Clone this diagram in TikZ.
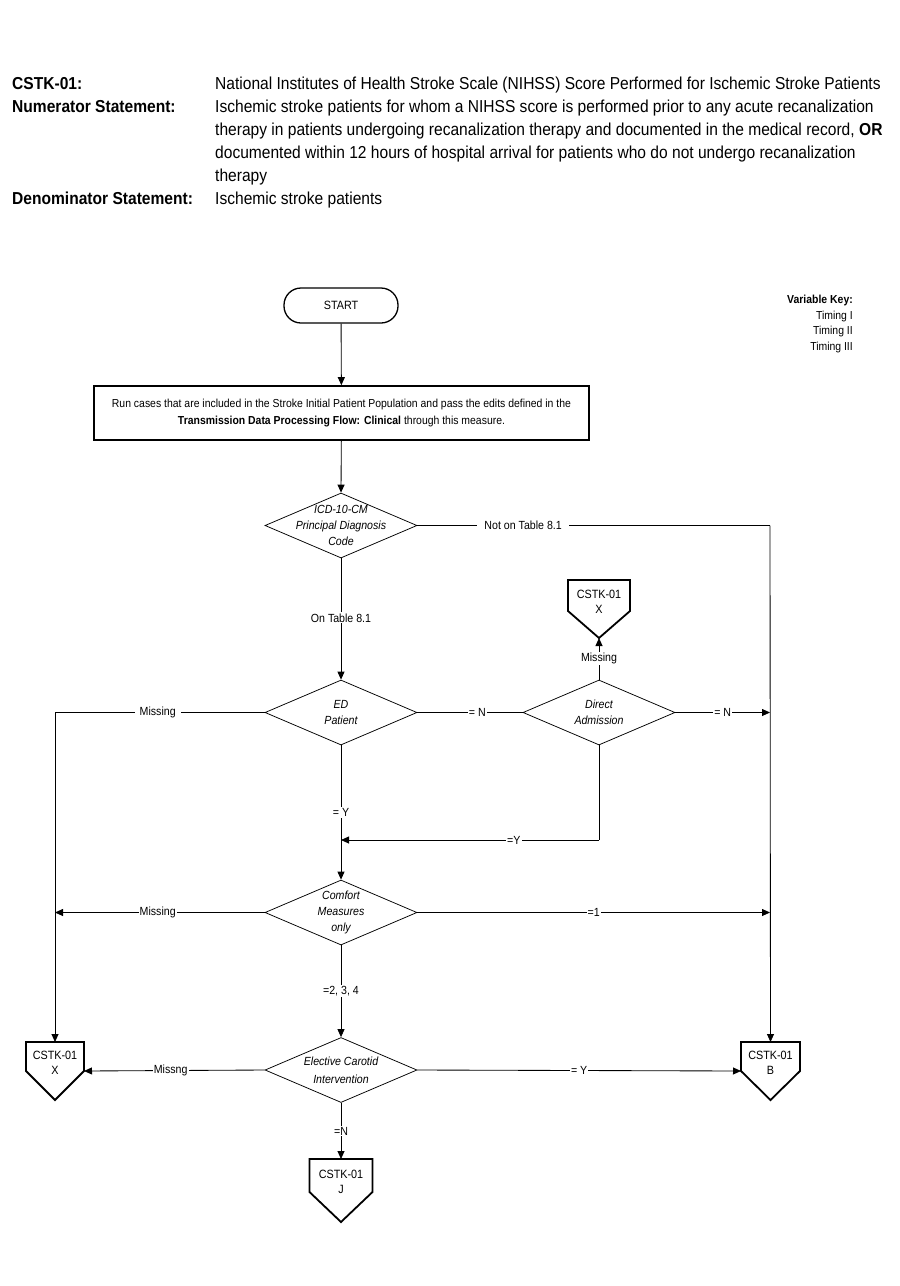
\documentclass[tikz,border=0pt]{standalone}
\usepackage{fontspec}
\setmainfont{Liberation Sans}[FakeStretch=0.9]
\usetikzlibrary{arrows.meta,shapes.geometric}
\newcommand{\offpage}[6]{% name, cx, ytop, halfwidth, recth, tiph
  \draw[offline] (#2-#4,#3) -- (#2+#4,#3) -- (#2+#4,#3+#5) -- (#2,#3+#5+#6) -- (#2-#4,#3+#5) -- cycle;
  \coordinate (#1-top) at (#2,#3);
  \coordinate (#1-tip) at (#2,#3+#5+#6);
  \coordinate (#1-le) at (#2-#4,#3+#5);
  \coordinate (#1-re) at (#2+#4,#3+#5);
}
\begin{document}
\begin{tikzpicture}[x=1pt,y=-1pt,
  line/.style={draw=black, line width=0.85pt},
  arr/.style={line, -{Triangle[length=8pt,width=7pt]}},
  offline/.style={draw=black, line width=1.8pt, line join=miter},
  dec/.style={diamond, draw=black, line width=0.75pt, minimum width=152pt, minimum height=65pt, inner sep=0pt},
  dectxt/.style={align=center, inner sep=0pt, font=\fontsize{11.8}{16}\selectfont\itshape},
  lab/.style={fill=white, inner sep=1pt, font=\fontsize{11.8}{13}\selectfont},
  offtxt/.style={align=center, inner sep=0pt, font=\fontsize{12}{15}\selectfont},
  hd/.style={anchor=base west, inner sep=0pt, font=\fontsize{17.3}{23}\selectfont},
  hdb/.style={hd, font=\fontsize{17.3}{23}\selectfont\bfseries},
  vkf/.style={anchor=east, inner sep=0pt, font=\fontsize{11.6}{13}\selectfont},
]
\useasboundingbox (0,0) rectangle (900,1286);
% header
\node[hdb] (h1) at (12,89) {CSTK-01:};
\node[hd] (t1) at (215,89) {National Institutes of Health Stroke Scale (NIHSS) Score Performed for Ischemic Stroke Patients};
\node[hdb] (h2) at (12,112) {Numerator Statement:};
\node[hd, anchor=north west, align=left] (t2) at (215,100) {Ischemic stroke patients for whom a NIHSS score is performed prior to any acute recanalization\\therapy in patients undergoing recanalization therapy and documented in the medical record, \textbf{OR}\\documented within 12 hours of hospital arrival for patients who do not undergo recanalization\\therapy};
\node[hdb] (h3) at (12,204) {Denominator Statement:};
\node[hd] (t3) at (215,204) {Ischemic stroke patients};
% variable key
\node[vkf, font=\fontsize{11.6}{13}\selectfont\bfseries] (vk) at (853,300) {Variable Key:};
\node[vkf] (vk1) at (853,316) {Timing I};
\node[vkf] (vk2) at (853,331) {Timing II};
\node[vkf] (vk3) at (853,347) {Timing III};
% start
\node[draw=black, line width=1.3pt, rounded corners=17pt, minimum width=114pt, minimum height=35pt, font=\fontsize{12}{13}\selectfont] (start) at (341,305.5) {START};
% box
\node[draw=black, line width=1.6pt, minimum width=495pt, minimum height=54pt, align=center, font=\fontsize{11.6}{17}\selectfont] (box) at (341.5,413) {Run cases that are included in the Stroke Initial Patient Population and pass the edits defined in the\\\textbf{Transmission Data Processing Flow: Clinical} through this measure.};
% decisions
\node[dec] (icd) at (341,525.5) {};
\node[dectxt] (icdt) at (icd) {ICD-10-CM\\Principal Diagnosis\\Code};
\node[dec] (ed) at (341,712.5) {};
\node[dectxt] (edt) at (ed) {ED\\Patient};
\node[dec] (da) at (599,712.5) {};
\node[dectxt] (dat) at (da) {Direct\\Admission};
\node[dec] (cmo) at (341,912.5) {};
\node[dectxt] (cmot) at (cmo) {Comfort\\Measures\\only};
\node[dec] (eci) at (341,1070) {};
\node[dectxt, font=\fontsize{11.8}{18}\selectfont\itshape] (ecit) at (eci) {Elective Carotid\\Intervention};
% off-page connectors
\offpage{xt}{599}{580}{31}{31}{27}
\node[offtxt] (xtt) at (599,601.5) {CSTK-01\\X};
\offpage{xl}{55}{1042}{29}{29}{29}
\node[offtxt] (xlt) at (55,1062.5) {CSTK-01\\X};
\offpage{xb}{770.5}{1042}{29.5}{29}{29}
\node[offtxt] (xbt) at (770.5,1062.5) {CSTK-01\\B};
\offpage{xj}{341}{1159}{31.5}{33}{30}
\node[offtxt] (xjt) at (341,1182) {CSTK-01\\J};
% coordinates
\coordinate (rt) at (770,525.5);
\coordinate (rn) at (770,712.5);
\coordinate (r1) at (770,912.5);
\coordinate (lt) at (55,712.5);
\coordinate (lm) at (55,912.5);
\coordinate (dy) at (599,840);
\coordinate (my) at (341,840);
% connectors
\draw[arr] (start) -- (box);
\draw[arr] (box) -- (icd.north);
\draw[arr] (icd.south) -- node[lab, pos=0.49] {On Table 8.1} (ed.north);
\draw[line] (icd.east) -- node[lab, inner xsep=7pt, pos=0.30] {Not on Table 8.1} (rt);
\draw[arr] (rt) -- (xb-top);
\draw[line] (ed.east) -- node[lab, pos=0.57] {= N} (da.west);
\draw[arr] (da.east) -- node[lab, pos=0.5] {= N} (rn);
\draw[arr] (da.north) -- node[lab, pos=0.5] {Missing} (xt-tip);
\draw[line] (ed.west) -- node[lab, inner xsep=5pt, pos=0.51] {Missing} (lt);
\draw[arr] (lt) -- (xl-top);
\draw[arr] (ed.south) -- node[lab, pos=0.5] {= Y} (cmo.north);
\draw[line] (da.south) -- (dy);
\draw[arr] (dy) -- node[lab, pos=0.33] {=Y} (my);
\draw[arr] (cmo.west) -- node[lab, pos=0.51] {Missing} (lm);
\draw[arr] (cmo.east) -- node[lab, pos=0.5] {=1} (r1);
\draw[arr] (cmo.south) -- node[lab, pos=0.5] {=2, 3, 4} (eci.north);
\draw[arr] (eci.west) -- node[lab, pos=0.52] {Missng} (xl-re);
\draw[arr] (eci.east) -- node[lab, pos=0.50] {= Y} (xb-le);
\draw[arr] (eci.south) -- node[lab, pos=0.5] {=N} (xj-top);
\end{tikzpicture}
\end{document}
